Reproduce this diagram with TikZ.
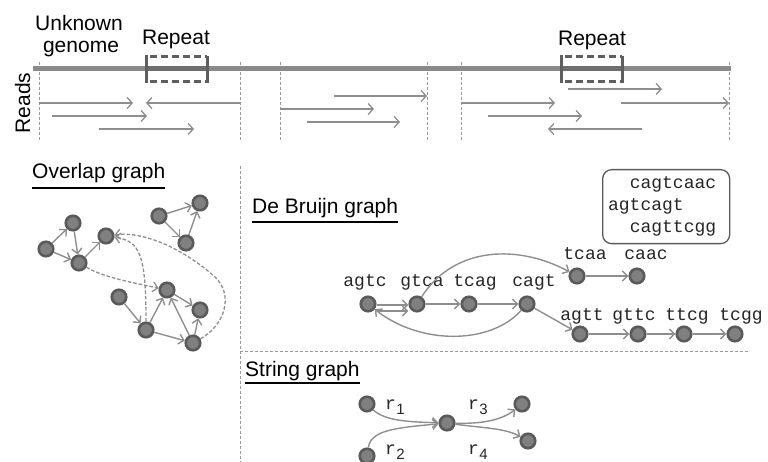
\documentclass[tikz,border=0pt]{standalone}
\usepackage{fontspec}
\setmainfont{Liberation Sans}
\newfontfamily\seqfont{Liberation Mono}
\usetikzlibrary{arrows.meta}
\definecolor{edgegray}{HTML}{8E8E8E}
\definecolor{vfill}{HTML}{808080}
\definecolor{vline}{HTML}{5A5A5A}
\definecolor{genomec}{HTML}{8A8A8A}
\definecolor{repeatc}{HTML}{5E5E5E}
\definecolor{guide}{HTML}{9A9A9A}
\begin{document}
\begin{tikzpicture}[x=1pt,y=-1pt,
  txt/.style={font=\fontsize{21}{22}\selectfont, inner sep=0pt},
  title/.style={txt, anchor=base west},
  underl/.style={line width=2pt, black},
  seq/.style={font=\seqfont\fontsize{18}{22}\selectfont, text=black!85, inner sep=0pt},
  sub/.style={font=\fontsize{15}{15}\selectfont, inner sep=0pt, text=black!85},
  vtx/.style={circle, fill=vfill, draw=vline, line width=2.6pt, minimum size=14.5pt, inner sep=0pt},
  arc/.style={draw=edgegray, line width=1.4pt, -{Straight Barb[length=5pt,width=10pt]}},
  darc/.style={arc, line width=1.3pt, dash pattern=on 3.5pt off 2pt},
  guideline/.style={draw=guide, line width=1pt, dash pattern=on 3pt off 2pt},
  readarrow/.style={draw=edgegray, line width=1.3pt, -{Straight Barb[length=5pt,width=11pt]}},
  repside/.style={repeatc, line width=3pt},
  reptop/.style={repeatc, line width=3pt, dash pattern=on 7pt off 4pt},
]
\useasboundingbox (0,0) rectangle (768,462);

% ---------- genome and reads ----------
\node[txt, anchor=base] (unk1) at (79,31) {Unknown};
\node[txt, anchor=base] (unk2) at (81,53) {genome};
\node[txt, anchor=base] (rep1) at (176,45) {Repeat};
\node[txt, anchor=base] (rep2) at (592,46) {Repeat};
\node[txt, rotate=90, anchor=base] (reads) at (30,103) {Reads};

\foreach \x in {39,240,280,427,461,729}
  \draw[guideline] (\x,62) -- (\x,142);

\draw[genomec, line width=5pt] (33,69) -- (731,69);
\foreach \a/\b in {146/207, 561/622} {
  \draw[repeatc!90, line width=5pt] (\a,69) -- (\b,69);
  \draw[reptop] (\a+4,57) -- (\b,57);
  \draw[reptop] (\a+4,82) -- (\b,82);
  \draw[repside] (\a,55) -- (\a,83);
  \draw[repside] (\b,56) -- (\b,83.5);
}

% reads of the first segment
\draw[readarrow] (39,103) -- (133,103);
\draw[readarrow] (240,103) -- (146,103);
\draw[readarrow] (52,116) -- (147,116);
\draw[readarrow] (99,129) -- (194,129);
% reads of the second segment
\draw[readarrow] (334,96) -- (427,96);
\draw[readarrow] (280,109) -- (374,109);
\draw[readarrow] (307,122) -- (400,122);
% reads of the third segment
\draw[readarrow] (568,89) -- (662,89);
\draw[readarrow] (461,103) -- (555,103);
\draw[readarrow] (621,103) -- (729,103);
\draw[readarrow] (488,116) -- (582,116);
\draw[readarrow] (642,129) -- (548,129);

% ---------- panel separators ----------
\draw[guideline] (240,166) -- (240,462);
\draw[guideline] (240,351) -- (748,351);

% ---------- overlap graph ----------
\node[title] (ogt) at (32,179) {Overlap graph};
\draw[underl] ([yshift=-9pt]ogt.base west) -- ([yshift=-9pt]ogt.base east);

\node[vtx] (o1) at (46,249) {};
\node[vtx] (o2) at (73,223) {};
\node[vtx] (o3) at (79,263) {};
\node[vtx] (o4) at (106,236) {};
\node[vtx] (o5) at (159,216) {};
\node[vtx] (o6) at (200,203) {};
\node[vtx] (o7) at (186,243) {};
\node[vtx] (o8) at (119,297) {};
\node[vtx] (o9) at (167,290) {};
\node[vtx] (o10) at (200,310) {};
\node[vtx] (o11) at (146,330) {};
\node[vtx] (o12) at (193,343) {};

\draw[arc] (o1) -- (o2);
\draw[arc] (o1) -- (o3);
\draw[arc] (o2) -- (o3);
\draw[arc] (o3) -- (o4);
\draw[arc] (o5) -- (o6);
\draw[arc] (o5) -- (o7);
\draw[arc] (o7) -- (o6);
\draw[arc] (o8) -- (o11);
\draw[arc] (o11) -- (o9);
\draw[arc] (o9) -- (o10);
\draw[arc] (o12) -- (o9);
\draw[arc] (o11) -- (o12);
\draw[arc] (o12) -- (o10);

\draw[darc] (o3) .. controls (105,278) and (135,283) .. (o9);
\draw[darc] (o11) .. controls (146,255) and (140,241) .. (o4);
\draw[darc] (o12) .. controls (225,325) and (234,295) .. (215,277)
            .. controls (185,250) and (145,231) .. (o4);

% ---------- de Bruijn graph ----------
\node[title] (dbt) at (252,214) {De Bruijn graph};
\draw[underl] ([yshift=-8pt]dbt.base west) -- ([yshift=-8pt]dbt.base east);

\node[vtx] (agtc) at (368,304) {};
\node[vtx] (gtca) at (417,304) {};
\node[vtx] (tcag) at (469,304) {};
\node[vtx] (cagt) at (527,304) {};
\node[vtx] (tcaa) at (577,276) {};
\node[vtx] (caac) at (637,276) {};
\node[vtx] (agtt) at (580,334) {};
\node[vtx] (gttc) at (638,334) {};
\node[vtx] (ttcg) at (684,334) {};
\node[vtx] (tcgg) at (735,334) {};

\node[seq, anchor=base] (l-agtc) at (365,287) {agtc};
\node[seq, anchor=base] (l-gtca) at (422,287) {gtca};
\node[seq, anchor=base] (l-tcag) at (475,287) {tcag};
\node[seq, anchor=base] (l-cagt) at (534,287) {cagt};
\node[seq, anchor=base] (l-tcaa) at (585,260) {tcaa};
\node[seq, anchor=base] (l-caac) at (646,260) {caac};
\node[seq, anchor=base] (l-agtt) at (582,320) {agtt};
\node[seq, anchor=base] (l-gttc) at (634,320) {gttc};
\node[seq, anchor=base] (l-ttcg) at (687,320) {ttcg};
\node[seq, anchor=base] (l-tcgg) at (741,320) {tcgg};

\draw[arc] ([yshift=-1pt]agtc.east) -- ([yshift=-1pt]gtca.west);
\draw[arc] ([yshift=-7pt]agtc.east) -- ([yshift=-7pt]gtca.west);
\draw[arc] (gtca) -- (tcag);
\draw[arc] (tcag) -- (cagt);
\draw[arc] (cagt) .. controls (490,345) and (420,345) .. (agtc);
\draw[arc] (gtca) .. controls (455,245) and (520,245) .. (tcaa);
\draw[arc] (cagt) -- (agtt);
\draw[arc] (tcaa) -- (caac);
\draw[arc] (agtt) -- (gttc);
\draw[arc] (gttc) -- (ttcg);
\draw[arc] (ttcg) -- (tcgg);

\node[seq, draw=vline, line width=1.3pt, rounded corners=9pt, align=left,
      inner xsep=0pt, minimum width=127pt, minimum height=74pt, anchor=north west]
  (kmers) at (602,169)
  {\phantom{ag}cagtcaac\hspace*{8pt}\\agtcagt\\\phantom{ag}cagttcgg};

% ---------- string graph ----------
\node[title] (sgt) at (245,376) {String graph};
\draw[underl] ([yshift=-7pt]sgt.base west) -- ([yshift=-7pt]sgt.base east);

\node[vtx] (s1) at (367,404) {};
\node[vtx] (s2) at (447,423) {};
\node[vtx] (s3) at (522,404) {};
\node[vtx] (s4) at (528,441) {};
\node[vtx] (s5) at (367,456) {};

\draw[arc] (s1) .. controls (385,421) and (410,422) .. (s2);
\draw[arc] (s5) .. controls (371,430) and (395,428) .. (s2);
\draw[arc] (s2) .. controls (482,424) and (502,420) .. (s3);
\draw[arc] (s2) .. controls (482,428) and (505,428) .. (s4);

\node[seq, anchor=base west] (r1) at (385,409) {r};
\node[sub, anchor=base west] (r1i) at (r1.base east) [yshift=-5pt] {1};
\node[seq, anchor=base west] (r2) at (385,454) {r};
\node[sub, anchor=base west] (r2i) at (r2.base east) [yshift=-5pt] {2};
\node[seq, anchor=base west] (r3) at (468,409) {r};
\node[sub, anchor=base west] (r3i) at (r3.base east) [yshift=-5pt] {3};
\node[seq, anchor=base west] (r4) at (468,454) {r};
\node[sub, anchor=base west] (r4i) at (r4.base east) [yshift=-5pt] {4};
\end{tikzpicture}
\end{document}
